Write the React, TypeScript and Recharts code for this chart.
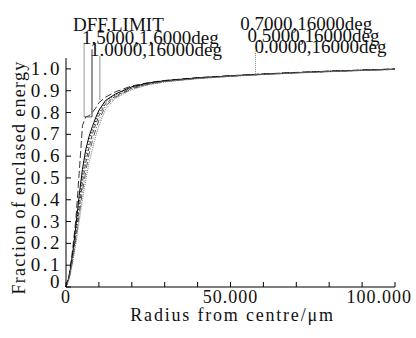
import React from 'react';
import { LineChart, Line, XAxis, YAxis, ReferenceLine, ReferenceDot } from 'recharts';

const radius = [0, 1, 2, 3, 4, 5, 6, 7, 8, 9, 10, 12, 15, 20, 25, 30, 40, 50, 60, 70, 80, 90, 100];

const dffLimit = [0, 0.06, 0.17, 0.31, 0.52, 0.74, 0.78, 0.785, 0.8, 0.82, 0.845, 0.87, 0.895, 0.922, 0.937, 0.947, 0.96, 0.969, 0.977, 0.984, 0.99, 0.995, 1.0];
const f15 = [0, 0.05, 0.15, 0.28, 0.42, 0.54, 0.63, 0.69, 0.735, 0.775, 0.81, 0.855, 0.885, 0.918, 0.935, 0.946, 0.959, 0.968, 0.976, 0.983, 0.989, 0.994, 0.999];
const f10 = [0, 0.05, 0.14, 0.26, 0.39, 0.51, 0.6, 0.67, 0.72, 0.76, 0.8, 0.85, 0.88, 0.915, 0.933, 0.945, 0.958, 0.968, 0.976, 0.983, 0.989, 0.994, 0.999];
const f07 = [0, 0.045, 0.13, 0.24, 0.36, 0.48, 0.57, 0.64, 0.7, 0.745, 0.785, 0.84, 0.875, 0.912, 0.931, 0.943, 0.957, 0.967, 0.975, 0.982, 0.988, 0.993, 0.998];
const f05 = [0, 0.04, 0.12, 0.22, 0.33, 0.44, 0.53, 0.61, 0.67, 0.72, 0.765, 0.83, 0.87, 0.909, 0.929, 0.942, 0.956, 0.966, 0.975, 0.982, 0.988, 0.993, 0.998];
const f00 = [0, 0.04, 0.11, 0.2, 0.3, 0.4, 0.49, 0.57, 0.63, 0.69, 0.74, 0.815, 0.865, 0.905, 0.927, 0.94, 0.955, 0.966, 0.974, 0.981, 0.987, 0.993, 0.997];

const seriesNames = ['DFF.LIMIT', '1.5000,1.6000deg', '1.0000,16000deg', '0.7000,16000deg', '0.5000,16000deg', '0.0000,16000deg'];
const seriesValues = [dffLimit, f15, f10, f07, f05, f00];

const xTicks = [0, 10, 20, 30, 40, 50, 60, 70, 80, 90, 100];
const xTickLabels: Record<number, string> = { 0: '0', 50: '50.000', 100: '100.000' };
const yTicks = [0, 0.1, 0.2, 0.3, 0.4, 0.5, 0.6, 0.7, 0.8, 0.9, 1.0];

const data = radius.map((r, i) => {
  const row: any = { r };
  seriesValues.forEach((s, k) => {
    row['s' + k] = s[i];
  });
  return row;
});

const lineStyles = [
  { stroke: '#333', dash: '7 3' },
  { stroke: '#000', dash: undefined },
  { stroke: '#000', dash: '1 2' },
  { stroke: '#444', dash: '4 2' },
  { stroke: '#555', dash: '6 2 1 2' },
  { stroke: '#777', dash: '1 1' },
];

// where the series names sit (data coords, text starts here)
const labelSpots = [
  { x: 2.1, y: 1.172 },
  { x: 4.9, y: 1.115 },
  { x: 7.3, y: 1.06 },
  { x: 53.0, y: 1.18 },
  { x: 55.2, y: 1.125 },
  { x: 57.3, y: 1.075 },
];

// leader lines from curves up to the names
const leaders = [
  { from: { x: 5.5, y: 0.78 }, to: { x: 5.5, y: 1.12 }, stroke: '#999', dash: undefined },
  { from: { x: 5.5, y: 0.78 }, to: { x: 7.9, y: 0.78 }, stroke: '#555', dash: undefined },
  { from: { x: 7.9, y: 0.78 }, to: { x: 7.9, y: 1.09 }, stroke: '#333', dash: undefined },
  { from: { x: 10.3, y: 0.86 }, to: { x: 10.3, y: 1.06 }, stroke: '#222', dash: '1 1' },
  { from: { x: 57.6, y: 0.977 }, to: { x: 57.6, y: 1.08 }, stroke: '#888', dash: '1 1' },
];

const FONT = '"Liberation Serif", "Times New Roman", serif';

const XTick = ({ x, y, payload }: any) => {
  const label = xTickLabels[payload.value];
  if (!label) return <g />;
  const isLast = payload.value === 100;
  return (
    <text x={isLast ? x + 17 : x} y={y + 16} textAnchor={isLast ? 'end' : 'middle'} fontFamily={FONT} fontSize={18} letterSpacing={1} fill="#111">
      {label}
    </text>
  );
};

const YTick = ({ x, y, payload }: any) => {
  const v = payload.value;
  const label = v === 0 ? '0' : v.toFixed(1);
  return (
    <text x={x} y={v === 0 ? y + 1 : y + 6} textAnchor="end" fontFamily={FONT} fontSize={19} letterSpacing={2.5} fill="#111">
      {label}
    </text>
  );
};

const NameLabel = (props: any) => {
  const { viewBox, value } = props;
  return (
    <text x={viewBox.x} y={viewBox.y} fontFamily={FONT} fontSize={19} fill="#111">
      {value}
    </text>
  );
};

const XTitle = (props: any) => {
  const { viewBox } = props;
  return (
    <text x={viewBox.x + viewBox.width / 2 + 2} y={viewBox.y + 34} textAnchor="middle" fontFamily={FONT} fontSize={18} letterSpacing={1.8} fill="#111">
      Radius from centre/μm
    </text>
  );
};

const YTitle = (props: any) => {
  const { viewBox } = props;
  const cx = 25;
  const cy = viewBox.y + viewBox.height / 2 + 5;
  return (
    <text x={cx} y={cy} transform={`rotate(-90, ${cx}, ${cy})`} textAnchor="middle" fontFamily={FONT} fontSize={18} letterSpacing={1.3} fill="#111">
      Fraction of enclased energy
    </text>
  );
};

const App = () => {
  return (
    <div style={{ position: 'absolute', left: 0, top: 0, background: '#fff' }}>
      <LineChart width={416} height={338} data={data} margin={{ top: 58, right: 21, bottom: 0, left: 0 }}>
        <XAxis
          dataKey="r"
          type="number"
          domain={[0, 100]}
          ticks={xTicks}
          height={51}
          tickSize={-5}
          tickMargin={5}
          tick={<XTick />}
          stroke="#000"
          interval={0}
          label={{ content: XTitle }}
        />
        <XAxis xAxisId="top" orientation="top" type="number" domain={[0, 100]} ticks={xTicks} height={0} tickSize={-5} tick={false} stroke="#000" interval={0} />
        <YAxis
          type="number"
          domain={[0, 1.05]}
          ticks={yTicks}
          width={66}
          tickSize={-5}
          tickMargin={9}
          tick={<YTick />}
          stroke="#000"
          interval={0}
          label={{ content: YTitle }}
        />
        <YAxis yAxisId="right" orientation="right" type="number" domain={[0, 1.05]} ticks={yTicks} width={0} tickSize={-5} tick={false} stroke="#000" interval={0} />
        {seriesNames.map((name, k) => (
          <Line
            key={name}
            name={name}
            dataKey={'s' + k}
            stroke={lineStyles[k].stroke}
            strokeDasharray={lineStyles[k].dash}
            strokeWidth={1}
            dot={false}
            isAnimationActive={false}
            type="linear"
          />
        ))}
        {leaders.map((l, i) => (
          <ReferenceLine
            key={'lead' + i}
            segment={[l.from, l.to]}
            stroke={l.stroke}
            strokeDasharray={l.dash}
            strokeWidth={1}
            ifOverflow="visible"
          />
        ))}
        {seriesNames.map((name, k) => (
          <ReferenceDot
            key={'lab' + k}
            x={labelSpots[k].x}
            y={labelSpots[k].y}
            r={0}
            stroke="none"
            fill="none"
            ifOverflow="visible"
            label={{ value: name, content: NameLabel }}
          />
        ))}
      </LineChart>
    </div>
  );
};

export default App;
